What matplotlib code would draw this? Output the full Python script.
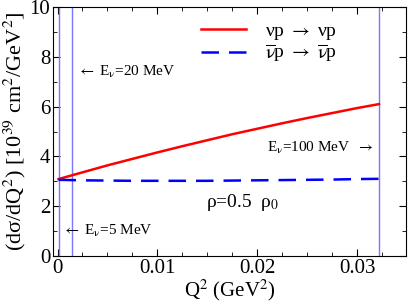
import numpy as np
import matplotlib.pyplot as plt
from matplotlib.ticker import MultipleLocator

plt.rcParams['font.family'] = ['Liberation Serif', 'DejaVu Serif']
plt.rcParams['mathtext.fontset'] = 'stix'

# cross sections
q2 = [0.0001, 0.0025, 0.005, 0.0075, 0.01, 0.0125, 0.015,
      0.0175, 0.02, 0.0225, 0.025, 0.0275, 0.03, 0.0322]
nu_p = [3.09, 3.36, 3.64, 3.90, 4.16, 4.41, 4.65,
        4.89, 5.11, 5.33, 5.54, 5.74, 5.94, 6.10]
nubar_p = [3.06, 3.04, 3.03, 3.02, 3.02, 3.02, 3.02,
           3.03, 3.04, 3.05, 3.06, 3.07, 3.09, 3.10]

# Q^2 max for each beam energy
q2_max = [0.0001, 0.00146, 0.0322]

fig = plt.figure(figsize=(4.08, 3.03), dpi=100)
ax = fig.add_axes([0.130, 0.155, 0.865, 0.822])

for q in q2_max:
    ax.axvline(q, color='#7878ff', lw=1.0)

ax.plot(q2, nu_p, color='red', lw=1.8,
        label=r'νp $\rightarrow$ νp')
ax.plot(q2, nubar_p, color='blue', lw=1.8, dashes=(7, 4),
        label=r'$\overline{\mathrm{\nu}}$p $\rightarrow$ $\overline{\mathrm{\nu}}$p')

ax.set_xlim(-0.00045, 0.0349)
ax.set_ylim(0, 10)
ax.xaxis.set_minor_locator(MultipleLocator(0.0025))
ax.yaxis.set_major_locator(MultipleLocator(2))
ax.yaxis.set_minor_locator(MultipleLocator(1))
ax.set_xticks([0, 0.01, 0.02, 0.03])
ax.set_xticklabels(['0', '0.01', '0.02', '0.03'])
ax.tick_params(which='both', direction='in', top=True, right=True, labelsize=15)
ax.tick_params(which='major', length=5, pad=2)
ax.tick_params(which='minor', length=3)

ax.set_xlabel(r'Q$^2$ (GeV$^2$)', fontsize=15, labelpad=0)
ax.set_ylabel(r'(dσ/dQ$^2$) [10$^{39}$ cm$^2$/GeV$^2$]', fontsize=16, labelpad=1)

ax.legend(loc='upper left', bbox_to_anchor=(0.37, 1.01), frameon=False,
          fontsize=14, handlelength=2.3, handletextpad=1.0, labelspacing=0.05)

ax.text(0.0019, 7.4, r'$\leftarrow$ E$_\mathrm{\nu}$=20 MeV', fontsize=11, va='center')
ax.text(0.0004, 1.0, r'$\leftarrow$ E$_\mathrm{\nu}$=5 MeV', fontsize=11, va='center')
ax.text(0.0210, 4.35, r'E$_\mathrm{\nu}$=100 MeV  $\rightarrow$', fontsize=11, va='center')
ax.text(0.0149, 2.15, r'ρ=0.5  ρ$_0$', fontsize=14, va='center')

fig.savefig('out.png', dpi=100)
